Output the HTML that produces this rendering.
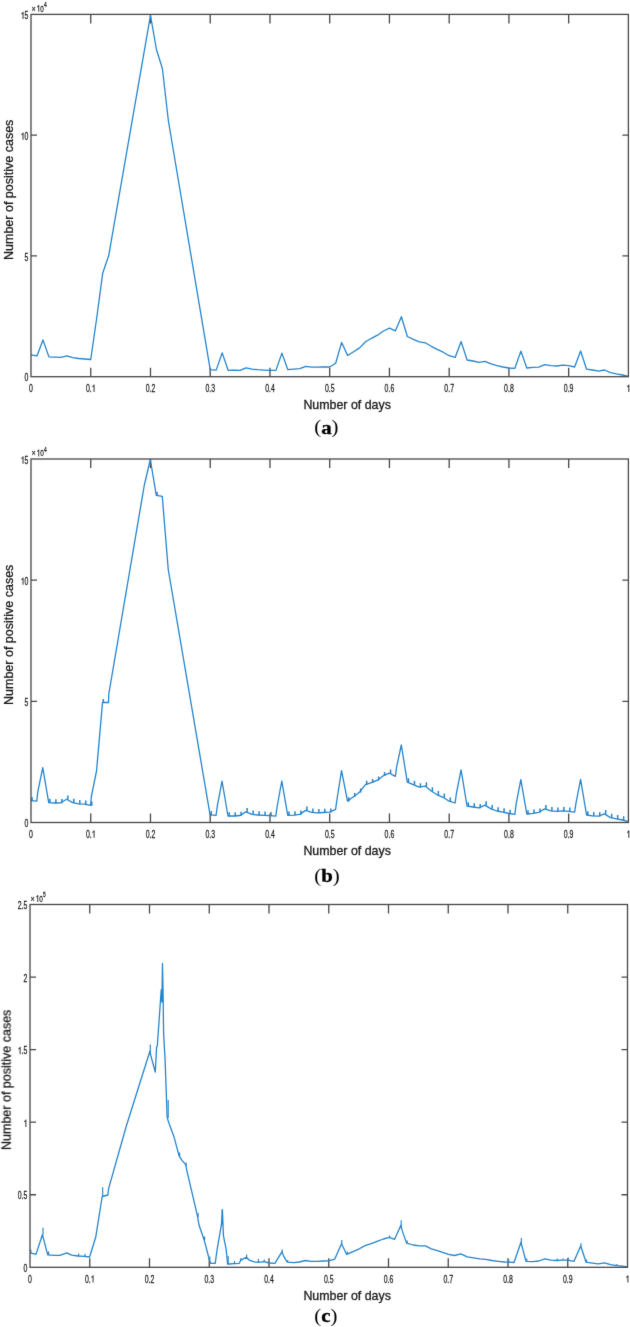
<!DOCTYPE html><html><head><meta charset="utf-8"><style>html,body{margin:0;padding:0;background:#fff;overflow:hidden;width:630px;height:1327px;}svg{display:block;} .s text{font-family:"Liberation Sans",sans-serif;} .s text.sf{font-family:"Liberation Serif",serif;}</style></head><body>
<svg width="630" height="1327" viewBox="0 0 630 1327">
<defs><filter id="bl" x="0" y="0" width="630" height="1327" filterUnits="userSpaceOnUse" color-interpolation-filters="sRGB"><feConvolveMatrix order="3" kernelMatrix="0.01 0.065 0.01 0.065 0.7 0.065 0.01 0.065 0.01" preserveAlpha="true" edgeMode="duplicate"/></filter></defs>
<rect width="630" height="1327" fill="#fff"/>
<g filter="url(#bl)"><rect width="630" height="1327" fill="#fff"/>
<g class="s"><path fill="none" stroke="#484848" stroke-width="1.3" d="M90.74 376.7V367.7M90.74 14.4V23.4M150.48 376.7V367.7M150.48 14.4V23.4M210.22 376.7V367.7M210.22 14.4V23.4M269.96 376.7V367.7M269.96 14.4V23.4M329.7 376.7V367.7M329.7 14.4V23.4M389.44 376.7V367.7M389.44 14.4V23.4M449.18 376.7V367.7M449.18 14.4V23.4M508.92 376.7V367.7M508.92 14.4V23.4M568.66 376.7V367.7M568.66 14.4V23.4M31 255.93H37M628.4 255.93H622.4M31 135.17H37M628.4 135.17H622.4"/><clipPath id="cpa"><rect x="31" y="14.4" width="597.4" height="362.3"/></clipPath><g clip-path="url(#cpa)"><polyline fill="none" stroke="#2484cc" stroke-width="1.3" stroke-linejoin="round" points="31,354.9 36.97,355.9 42.95,339.9 48.92,356.9 54.9,357.2 60.87,357.4 66.84,355.9 72.82,357.6 78.79,358.5 84.77,359 90.74,359.5 96.71,318 102.69,273.3 108.66,255.8 150.48,15.4 156.45,49.5 162.43,68.7 168.4,121 210.22,369.6 216.19,370.1 222.17,352.9 228.14,370.3 234.12,370.2 240.09,370.3 246.06,367.8 252.04,369.1 258.01,369.7 263.99,370.1 269.96,370.4 275.93,370.4 281.91,353.1 287.88,369.7 293.86,369.1 299.83,368.7 305.8,366.4 311.78,367.2 317.75,367.2 323.73,366.8 329.7,367 335.67,363.3 341.65,342.4 347.62,355.5 353.6,351.7 359.57,347.9 365.54,341.8 371.52,338.3 377.49,335.2 383.47,331 389.44,328.2 395.41,330.8 401.39,316.7 407.36,336.5 413.34,339.3 419.31,341.8 425.28,342.8 431.26,346.3 437.23,349.4 443.21,352.2 449.18,355.7 455.15,357.4 461.13,341.6 467.1,360 473.08,361 479.05,362.3 485.02,361.3 491,363.8 496.97,365.7 502.95,367 508.92,368 514.89,368.3 520.87,351.1 526.84,368 532.82,367.4 538.79,367.2 544.76,364.7 550.74,365.7 556.71,366 562.69,365.1 568.66,365.7 574.63,367 580.61,351 586.58,369.2 592.56,370 598.53,371.1 604.5,370 610.48,372.6 616.45,373.9 622.43,375 628.4,376.4"/></g><rect x="31" y="14.4" width="597.4" height="362.3" fill="none" stroke="#484848" stroke-width="1.3"/><text x="0" y="0" transform="translate(29.07 392) scale(0.667 1)" font-size="10.4" fill="#1a1a1a" stroke="#1a1a1a" stroke-width="0.25">0</text><text x="0" y="0" transform="translate(85.92 392) scale(0.667 1)" font-size="10.4" fill="#1a1a1a" stroke="#1a1a1a" stroke-width="0.25">0.</text><path fill="#1a1a1a" transform="translate(91.7 392) scale(6.9368 -10.4)" d="M0.275,0L0.405,0L0.405,0.716L0.32,0.716C0.29,0.655 0.21,0.59 0.09,0.55L0.09,0.45C0.17,0.475 0.24,0.515 0.275,0.55Z"/><text x="0" y="0" transform="translate(145.66 392) scale(0.667 1)" font-size="10.4" fill="#1a1a1a" stroke="#1a1a1a" stroke-width="0.25">0.2</text><text x="0" y="0" transform="translate(205.4 392) scale(0.667 1)" font-size="10.4" fill="#1a1a1a" stroke="#1a1a1a" stroke-width="0.25">0.3</text><text x="0" y="0" transform="translate(265.14 392) scale(0.667 1)" font-size="10.4" fill="#1a1a1a" stroke="#1a1a1a" stroke-width="0.25">0.4</text><text x="0" y="0" transform="translate(324.88 392) scale(0.667 1)" font-size="10.4" fill="#1a1a1a" stroke="#1a1a1a" stroke-width="0.25">0.5</text><text x="0" y="0" transform="translate(384.62 392) scale(0.667 1)" font-size="10.4" fill="#1a1a1a" stroke="#1a1a1a" stroke-width="0.25">0.6</text><text x="0" y="0" transform="translate(444.36 392) scale(0.667 1)" font-size="10.4" fill="#1a1a1a" stroke="#1a1a1a" stroke-width="0.25">0.7</text><text x="0" y="0" transform="translate(504.1 392) scale(0.667 1)" font-size="10.4" fill="#1a1a1a" stroke="#1a1a1a" stroke-width="0.25">0.8</text><text x="0" y="0" transform="translate(563.84 392) scale(0.667 1)" font-size="10.4" fill="#1a1a1a" stroke="#1a1a1a" stroke-width="0.25">0.9</text><path fill="#1a1a1a" transform="translate(626.47 392) scale(6.9368 -10.4)" d="M0.275,0L0.405,0L0.405,0.716L0.32,0.716C0.29,0.655 0.21,0.59 0.09,0.55L0.09,0.45C0.17,0.475 0.24,0.515 0.275,0.55Z"/><text x="0" y="0" transform="translate(24.54 381.4) scale(0.667 1)" font-size="10.4" fill="#1a1a1a" stroke="#1a1a1a" stroke-width="0.25">0</text><text x="0" y="0" transform="translate(24.54 260.63) scale(0.667 1)" font-size="10.4" fill="#1a1a1a" stroke="#1a1a1a" stroke-width="0.25">5</text><path fill="#1a1a1a" transform="translate(20.69 139.87) scale(6.9368 -10.4)" d="M0.275,0L0.405,0L0.405,0.716L0.32,0.716C0.29,0.655 0.21,0.59 0.09,0.55L0.09,0.45C0.17,0.475 0.24,0.515 0.275,0.55Z"/><text x="0" y="0" transform="translate(24.54 139.87) scale(0.667 1)" font-size="10.4" fill="#1a1a1a" stroke="#1a1a1a" stroke-width="0.25">0</text><path fill="#1a1a1a" transform="translate(20.69 19.1) scale(6.9368 -10.4)" d="M0.275,0L0.405,0L0.405,0.716L0.32,0.716C0.29,0.655 0.21,0.59 0.09,0.55L0.09,0.45C0.17,0.475 0.24,0.515 0.275,0.55Z"/><text x="0" y="0" transform="translate(24.54 19.1) scale(0.667 1)" font-size="10.4" fill="#1a1a1a" stroke="#1a1a1a" stroke-width="0.25">5</text><text x="0" y="0" transform="translate(31.6 11.8) scale(0.75 1)" font-size="9.6" fill="#1a1a1a" stroke="#1a1a1a" stroke-width="0.25">&#215;</text><path fill="#1a1a1a" transform="translate(36.6 11.8) scale(6.4032 -9.6)" d="M0.275,0L0.405,0L0.405,0.716L0.32,0.716C0.29,0.655 0.21,0.59 0.09,0.55L0.09,0.45C0.17,0.475 0.24,0.515 0.275,0.55Z"/><text x="0" y="0" transform="translate(40.16 11.8) scale(0.667 1)" font-size="9.6" fill="#1a1a1a" stroke="#1a1a1a" stroke-width="0.25">0</text><text x="0" y="0" transform="translate(43.9 6.9) scale(0.667 1)" font-size="7.3" fill="#1a1a1a" stroke="#1a1a1a" stroke-width="0.25">4</text><text x="0" y="0" transform="translate(13.3 260) rotate(-90)" font-size="12.5" fill="#1a1a1a" stroke="#1a1a1a" stroke-width="0.3">Number of positive cases</text><text x="303.4" y="409.3" font-size="12.4" fill="#1a1a1a" stroke="#1a1a1a" stroke-width="0.3">Number of days</text><text x="0" y="0" transform="translate(314.2 433.2) scale(1.08 1)" font-size="19.3" class="sf" fill="#000">(<tspan dy="0.6" font-weight="bold" stroke="#000" stroke-width="0.35">a</tspan><tspan dy="-0.6">)</tspan></text></g>
<g class="s"><path fill="none" stroke="#484848" stroke-width="1.3" d="M90.74 822.5V813.5M90.74 459V468M150.48 822.5V813.5M150.48 459V468M210.22 822.5V813.5M210.22 459V468M269.96 822.5V813.5M269.96 459V468M329.7 822.5V813.5M329.7 459V468M389.44 822.5V813.5M389.44 459V468M449.18 822.5V813.5M449.18 459V468M508.92 822.5V813.5M508.92 459V468M568.66 822.5V813.5M568.66 459V468M31 701.33H37M628.4 701.33H622.4M31 580.17H37M628.4 580.17H622.4"/><clipPath id="cpb"><rect x="31" y="459" width="597.4" height="363.5"/></clipPath><g clip-path="url(#cpb)"><polyline fill="none" stroke="#2484cc" stroke-width="1.3" stroke-linejoin="round" points="30.8,800.7 36.78,801.2 37.79,791.8 42.75,767.7 48.73,802.6 54.7,803 60.68,802.8 66.66,799.2 72.63,802.6 78.61,803.9 84.58,804.2 90.56,805.3 91.46,796 96.54,771 102.51,702.5 108.49,702.5 108.79,694 144.34,485 150.32,459.5 156.3,495.4 162.27,496.3 168.25,569.5 210.08,814.9 216.06,815.3 217.37,805.6 222.03,781.2 228.01,816 233.98,816 239.96,815.5 245.94,811.9 251.91,814.4 257.89,815 263.86,815.3 269.84,815.7 275.82,816.1 277.13,806.5 281.79,781.2 287.77,815.3 293.74,815.1 299.72,814.4 305.7,810.4 311.67,812.3 317.65,812.9 323.62,812.5 329.6,812.2 335.58,809.4 336.89,800 341.55,770.6 347.53,801.1 353.5,796.7 359.48,792.2 365.46,784.6 371.43,782.7 377.41,780.2 383.38,775.7 389.36,773.2 395.34,776.3 396.65,766.8 401.31,745 407.29,782.1 413.26,784.6 419.24,787.1 425.22,786.1 431.19,791 437.17,794.8 443.14,797.3 449.12,801.2 455.1,803 456.41,793.5 461.07,769.9 467.05,806 473.02,807 479,807.9 484.98,805.1 490.95,808.9 496.93,811 502.9,812.1 508.88,813.5 514.86,814.3 516.17,803.8 520.83,779.6 526.81,814 532.78,813.3 538.76,812.3 544.74,808.9 550.71,810.8 556.69,811.4 562.66,810.8 568.64,811.4 574.62,812.2 575.93,803.3 580.59,779.4 586.57,815 592.54,815.8 598.52,816.1 604.5,813.9 610.47,817.6 616.45,818.9 622.42,820 628.4,821.7"/><path fill="none" stroke="#2484cc" stroke-width="1.5" d="M32 801.1V796.9M49.93 803V798.8M55.9 803.4V799.2M61.88 803.2V799M67.86 799.6V795.4M73.83 803V798.8M79.81 804.3V800.1M85.78 804.6V800.4M91.76 805.7V801.5M103.31 702.5V699M151.12 459.5V456M157.1 495.4V491.9M211.28 815.3V811.1M229.21 816.4V812.2M235.18 816.4V812.2M241.16 815.9V811.7M247.14 812.3V808.1M253.11 814.8V810.6M259.09 815.4V811.2M265.06 815.7V811.5M271.04 816.1V811.9M288.97 815.7V811.5M294.94 815.5V811.3M300.92 814.8V810.6M306.9 810.8V806.6M312.87 812.7V808.5M318.85 813.3V809.1M324.82 812.9V808.7M330.8 812.6V808.4M348.73 801.5V797.3M354.7 797.1V792.9M360.68 792.6V788.4M366.66 785V780.8M372.63 783.1V778.9M378.61 780.6V776.4M384.58 776.1V771.9M390.56 773.6V769.4M408.49 782.5V778.3M414.46 785V780.8M420.44 787.5V783.3M426.42 786.5V782.3M432.39 791.4V787.2M438.37 795.2V791M444.34 797.7V793.5M450.32 801.6V797.4M468.25 806.4V802.2M474.22 807.4V803.2M480.2 808.3V804.1M486.18 805.5V801.3M492.15 809.3V805.1M498.13 811.4V807.2M504.1 812.5V808.3M510.08 813.9V809.7M528.01 814.4V810.2M533.98 813.7V809.5M539.96 812.7V808.5M545.94 809.3V805.1M551.91 811.2V807M557.89 811.8V807.6M563.86 811.2V807M569.84 811.8V807.6M587.77 815.4V811.2M593.74 816.2V812M599.72 816.5V812.3M605.7 814.3V810.1M611.67 818V813.8M617.65 819.3V815.1M623.62 820.4V816.2M629.6 822.1V817.9"/></g><rect x="31" y="459" width="597.4" height="363.5" fill="none" stroke="#484848" stroke-width="1.3"/><text x="0" y="0" transform="translate(29.07 837.8) scale(0.667 1)" font-size="10.4" fill="#1a1a1a" stroke="#1a1a1a" stroke-width="0.25">0</text><text x="0" y="0" transform="translate(85.92 837.8) scale(0.667 1)" font-size="10.4" fill="#1a1a1a" stroke="#1a1a1a" stroke-width="0.25">0.</text><path fill="#1a1a1a" transform="translate(91.7 837.8) scale(6.9368 -10.4)" d="M0.275,0L0.405,0L0.405,0.716L0.32,0.716C0.29,0.655 0.21,0.59 0.09,0.55L0.09,0.45C0.17,0.475 0.24,0.515 0.275,0.55Z"/><text x="0" y="0" transform="translate(145.66 837.8) scale(0.667 1)" font-size="10.4" fill="#1a1a1a" stroke="#1a1a1a" stroke-width="0.25">0.2</text><text x="0" y="0" transform="translate(205.4 837.8) scale(0.667 1)" font-size="10.4" fill="#1a1a1a" stroke="#1a1a1a" stroke-width="0.25">0.3</text><text x="0" y="0" transform="translate(265.14 837.8) scale(0.667 1)" font-size="10.4" fill="#1a1a1a" stroke="#1a1a1a" stroke-width="0.25">0.4</text><text x="0" y="0" transform="translate(324.88 837.8) scale(0.667 1)" font-size="10.4" fill="#1a1a1a" stroke="#1a1a1a" stroke-width="0.25">0.5</text><text x="0" y="0" transform="translate(384.62 837.8) scale(0.667 1)" font-size="10.4" fill="#1a1a1a" stroke="#1a1a1a" stroke-width="0.25">0.6</text><text x="0" y="0" transform="translate(444.36 837.8) scale(0.667 1)" font-size="10.4" fill="#1a1a1a" stroke="#1a1a1a" stroke-width="0.25">0.7</text><text x="0" y="0" transform="translate(504.1 837.8) scale(0.667 1)" font-size="10.4" fill="#1a1a1a" stroke="#1a1a1a" stroke-width="0.25">0.8</text><text x="0" y="0" transform="translate(563.84 837.8) scale(0.667 1)" font-size="10.4" fill="#1a1a1a" stroke="#1a1a1a" stroke-width="0.25">0.9</text><path fill="#1a1a1a" transform="translate(626.47 837.8) scale(6.9368 -10.4)" d="M0.275,0L0.405,0L0.405,0.716L0.32,0.716C0.29,0.655 0.21,0.59 0.09,0.55L0.09,0.45C0.17,0.475 0.24,0.515 0.275,0.55Z"/><text x="0" y="0" transform="translate(24.54 827.2) scale(0.667 1)" font-size="10.4" fill="#1a1a1a" stroke="#1a1a1a" stroke-width="0.25">0</text><text x="0" y="0" transform="translate(24.54 706.03) scale(0.667 1)" font-size="10.4" fill="#1a1a1a" stroke="#1a1a1a" stroke-width="0.25">5</text><path fill="#1a1a1a" transform="translate(20.69 584.87) scale(6.9368 -10.4)" d="M0.275,0L0.405,0L0.405,0.716L0.32,0.716C0.29,0.655 0.21,0.59 0.09,0.55L0.09,0.45C0.17,0.475 0.24,0.515 0.275,0.55Z"/><text x="0" y="0" transform="translate(24.54 584.87) scale(0.667 1)" font-size="10.4" fill="#1a1a1a" stroke="#1a1a1a" stroke-width="0.25">0</text><path fill="#1a1a1a" transform="translate(20.69 463.7) scale(6.9368 -10.4)" d="M0.275,0L0.405,0L0.405,0.716L0.32,0.716C0.29,0.655 0.21,0.59 0.09,0.55L0.09,0.45C0.17,0.475 0.24,0.515 0.275,0.55Z"/><text x="0" y="0" transform="translate(24.54 463.7) scale(0.667 1)" font-size="10.4" fill="#1a1a1a" stroke="#1a1a1a" stroke-width="0.25">5</text><text x="0" y="0" transform="translate(31.6 456.4) scale(0.75 1)" font-size="9.6" fill="#1a1a1a" stroke="#1a1a1a" stroke-width="0.25">&#215;</text><path fill="#1a1a1a" transform="translate(36.6 456.4) scale(6.4032 -9.6)" d="M0.275,0L0.405,0L0.405,0.716L0.32,0.716C0.29,0.655 0.21,0.59 0.09,0.55L0.09,0.45C0.17,0.475 0.24,0.515 0.275,0.55Z"/><text x="0" y="0" transform="translate(40.16 456.4) scale(0.667 1)" font-size="9.6" fill="#1a1a1a" stroke="#1a1a1a" stroke-width="0.25">0</text><text x="0" y="0" transform="translate(43.9 451.5) scale(0.667 1)" font-size="7.3" fill="#1a1a1a" stroke="#1a1a1a" stroke-width="0.25">4</text><text x="0" y="0" transform="translate(13.3 705) rotate(-90)" font-size="12.5" fill="#1a1a1a" stroke="#1a1a1a" stroke-width="0.3">Number of positive cases</text><text x="303.4" y="855.1" font-size="12.4" fill="#1a1a1a" stroke="#1a1a1a" stroke-width="0.3">Number of days</text><text x="0" y="0" transform="translate(314.2 881.5) scale(1.08 1)" font-size="19.3" class="sf" fill="#000">(<tspan dy="0.6" font-weight="bold" stroke="#000" stroke-width="0.35">b</tspan><tspan dy="-0.6">)</tspan></text></g>
<g class="s"><path fill="none" stroke="#484848" stroke-width="1.3" d="M89.75 1267.3V1258.3M89.75 904.5V913.5M149.5 1267.3V1258.3M149.5 904.5V913.5M209.25 1267.3V1258.3M209.25 904.5V913.5M269 1267.3V1258.3M269 904.5V913.5M328.75 1267.3V1258.3M328.75 904.5V913.5M388.5 1267.3V1258.3M388.5 904.5V913.5M448.25 1267.3V1258.3M448.25 904.5V913.5M508 1267.3V1258.3M508 904.5V913.5M567.75 1267.3V1258.3M567.75 904.5V913.5M30 1194.74H36M627.5 1194.74H621.5M30 1122.18H36M627.5 1122.18H621.5M30 1049.62H36M627.5 1049.62H621.5M30 977.06H36M627.5 977.06H621.5"/><clipPath id="cpc"><rect x="30" y="904.5" width="597.5" height="362.8"/></clipPath><g clip-path="url(#cpc)"><polyline fill="none" stroke="#2484cc" stroke-width="1.3" stroke-linejoin="round" points="30.3,1252.8 36,1254.4 42.4,1234.7 47.7,1254.9 54.6,1255.4 59.9,1255.4 66.8,1252.8 71.6,1255.2 78,1256 84.4,1256.3 89.6,1257 95.7,1237.3 102.2,1196.5 107.9,1195 108.6,1188.6 126.1,1126.7 149.9,1051.2 150.9,1056 155.3,1072 156.6,1047.2 157.3,1046.2 161.2,990 161.9,1002 162.5,963.5 163.1,995 163.6,1033.4 165.1,1059.9 167.1,1116.2 167.6,1119.1 169.6,1125 174,1136.8 179.1,1155.9 182,1160.3 185.7,1164.7 186.5,1169.1 197.5,1216.2 199,1225 204.1,1239.7 209.3,1259.5 210.7,1263.4 215.2,1263.4 217.1,1249.6 221.5,1224.2 222.4,1209.6 223.4,1235.6 226,1248.3 227.6,1264 229.1,1264 234.2,1263.6 239.3,1263.3 240.6,1260.4 246.3,1257.2 248.8,1259.8 253.3,1261.7 258.3,1262.3 264,1261.7 269.2,1263 274.9,1263.3 281.9,1251.8 283.4,1255.6 287.2,1262.2 293.6,1262.6 299.3,1262 305.6,1260.5 310.7,1261.3 317.1,1261.3 323.4,1261 328.5,1260.8 334.8,1259.1 341.5,1243.7 346.6,1254.3 353.6,1251.3 359.3,1248.8 365.6,1245.4 371.3,1243.7 377.7,1241.2 383.4,1239 389.2,1237.4 394.5,1239.4 400.9,1225.3 402.1,1230.4 406.6,1243.1 413.2,1245 419.3,1245.9 425.4,1245.9 431.3,1248.8 437.3,1250.7 443.4,1252.6 448.5,1254.4 454.4,1255.5 460.9,1253.8 467.2,1256.9 473.6,1257.9 479.9,1258.8 485.6,1259.4 492,1260.5 498.3,1261.3 504.7,1262 508.4,1262.1 514,1262.5 521,1242.3 526,1261.3 532.9,1261.7 538.7,1261 545,1258.8 550.7,1260.1 557.1,1260.5 562.8,1260.1 567.9,1260.1 574,1261.3 580.7,1246 586.1,1262.2 592.2,1263.1 598.3,1263.9 604.4,1262.8 610.6,1264.7 616.7,1265.6 622.2,1266.1 627.4,1267"/><path fill="none" stroke="#2484cc" stroke-width="1.15" d="M30.8 1253V1249.5M43 1235V1227.8M48.6 1255V1251.5M78.6 1256V1253.5M85 1256.3V1253.8M102.7 1197V1187.2M150.3 1052V1044.5M168.2 1118V1100M179.6 1156V1152.5M186.1 1166V1162.5M198.1 1217V1213M204.6 1240V1236.5M209.8 1260V1256.5M222.3 1225V1209.6M228.2 1264V1256M234.5 1263.6V1261M240.9 1261V1258M246.6 1257.5V1254.5M258.4 1262.3V1259M264.2 1261.7V1259.5M282.2 1252V1249.5M287.7 1262V1260M341.8 1244V1239.9M347.3 1254.3V1251.5M389.6 1237.5V1235.5M401.2 1226V1220.2M407.2 1243V1240.5M508.7 1262V1259.5M521.3 1243V1237.9M526.8 1261.3V1258.5M557.2 1260.5V1258.5M563 1260.1V1258.5M568.2 1260.1V1257.5M581 1246V1243.2M586.5 1262.2V1259.5M616.9 1265.6V1264"/></g><rect x="30" y="904.5" width="597.5" height="362.8" fill="none" stroke="#484848" stroke-width="1.3"/><text x="0" y="0" transform="translate(28.07 1282.6) scale(0.667 1)" font-size="10.4" fill="#1a1a1a" stroke="#1a1a1a" stroke-width="0.25">0</text><text x="0" y="0" transform="translate(84.93 1282.6) scale(0.667 1)" font-size="10.4" fill="#1a1a1a" stroke="#1a1a1a" stroke-width="0.25">0.</text><path fill="#1a1a1a" transform="translate(90.71 1282.6) scale(6.9368 -10.4)" d="M0.275,0L0.405,0L0.405,0.716L0.32,0.716C0.29,0.655 0.21,0.59 0.09,0.55L0.09,0.45C0.17,0.475 0.24,0.515 0.275,0.55Z"/><text x="0" y="0" transform="translate(144.68 1282.6) scale(0.667 1)" font-size="10.4" fill="#1a1a1a" stroke="#1a1a1a" stroke-width="0.25">0.2</text><text x="0" y="0" transform="translate(204.43 1282.6) scale(0.667 1)" font-size="10.4" fill="#1a1a1a" stroke="#1a1a1a" stroke-width="0.25">0.3</text><text x="0" y="0" transform="translate(264.18 1282.6) scale(0.667 1)" font-size="10.4" fill="#1a1a1a" stroke="#1a1a1a" stroke-width="0.25">0.4</text><text x="0" y="0" transform="translate(323.93 1282.6) scale(0.667 1)" font-size="10.4" fill="#1a1a1a" stroke="#1a1a1a" stroke-width="0.25">0.5</text><text x="0" y="0" transform="translate(383.68 1282.6) scale(0.667 1)" font-size="10.4" fill="#1a1a1a" stroke="#1a1a1a" stroke-width="0.25">0.6</text><text x="0" y="0" transform="translate(443.43 1282.6) scale(0.667 1)" font-size="10.4" fill="#1a1a1a" stroke="#1a1a1a" stroke-width="0.25">0.7</text><text x="0" y="0" transform="translate(503.18 1282.6) scale(0.667 1)" font-size="10.4" fill="#1a1a1a" stroke="#1a1a1a" stroke-width="0.25">0.8</text><text x="0" y="0" transform="translate(562.93 1282.6) scale(0.667 1)" font-size="10.4" fill="#1a1a1a" stroke="#1a1a1a" stroke-width="0.25">0.9</text><path fill="#1a1a1a" transform="translate(625.57 1282.6) scale(6.9368 -10.4)" d="M0.275,0L0.405,0L0.405,0.716L0.32,0.716C0.29,0.655 0.21,0.59 0.09,0.55L0.09,0.45C0.17,0.475 0.24,0.515 0.275,0.55Z"/><text x="0" y="0" transform="translate(23.54 1272) scale(0.667 1)" font-size="10.4" fill="#1a1a1a" stroke="#1a1a1a" stroke-width="0.25">0</text><text x="0" y="0" transform="translate(17.76 1199.44) scale(0.667 1)" font-size="10.4" fill="#1a1a1a" stroke="#1a1a1a" stroke-width="0.25">0.5</text><path fill="#1a1a1a" transform="translate(23.54 1126.88) scale(6.9368 -10.4)" d="M0.275,0L0.405,0L0.405,0.716L0.32,0.716C0.29,0.655 0.21,0.59 0.09,0.55L0.09,0.45C0.17,0.475 0.24,0.515 0.275,0.55Z"/><path fill="#1a1a1a" transform="translate(17.76 1054.32) scale(6.9368 -10.4)" d="M0.275,0L0.405,0L0.405,0.716L0.32,0.716C0.29,0.655 0.21,0.59 0.09,0.55L0.09,0.45C0.17,0.475 0.24,0.515 0.275,0.55Z"/><text x="0" y="0" transform="translate(21.61 1054.32) scale(0.667 1)" font-size="10.4" fill="#1a1a1a" stroke="#1a1a1a" stroke-width="0.25">.5</text><text x="0" y="0" transform="translate(23.54 981.76) scale(0.667 1)" font-size="10.4" fill="#1a1a1a" stroke="#1a1a1a" stroke-width="0.25">2</text><text x="0" y="0" transform="translate(17.76 909.2) scale(0.667 1)" font-size="10.4" fill="#1a1a1a" stroke="#1a1a1a" stroke-width="0.25">2.5</text><text x="0" y="0" transform="translate(30.6 901.9) scale(0.75 1)" font-size="9.6" fill="#1a1a1a" stroke="#1a1a1a" stroke-width="0.25">&#215;</text><path fill="#1a1a1a" transform="translate(35.6 901.9) scale(6.4032 -9.6)" d="M0.275,0L0.405,0L0.405,0.716L0.32,0.716C0.29,0.655 0.21,0.59 0.09,0.55L0.09,0.45C0.17,0.475 0.24,0.515 0.275,0.55Z"/><text x="0" y="0" transform="translate(39.16 901.9) scale(0.667 1)" font-size="9.6" fill="#1a1a1a" stroke="#1a1a1a" stroke-width="0.25">0</text><text x="0" y="0" transform="translate(42.9 897) scale(0.667 1)" font-size="7.3" fill="#1a1a1a" stroke="#1a1a1a" stroke-width="0.25">5</text><text x="0" y="0" transform="translate(10.6 1150) rotate(-90)" font-size="12.5" fill="#1a1a1a" stroke="#1a1a1a" stroke-width="0.3">Number of positive cases</text><text x="303.4" y="1299.9" font-size="12.4" fill="#1a1a1a" stroke="#1a1a1a" stroke-width="0.3">Number of days</text><text x="0" y="0" transform="translate(314.2 1321.8) scale(1.08 1)" font-size="19.3" class="sf" fill="#000">(<tspan dy="0.6" font-weight="bold" stroke="#000" stroke-width="0.35">c</tspan><tspan dy="-0.6">)</tspan></text></g>
</g></svg></body></html>
